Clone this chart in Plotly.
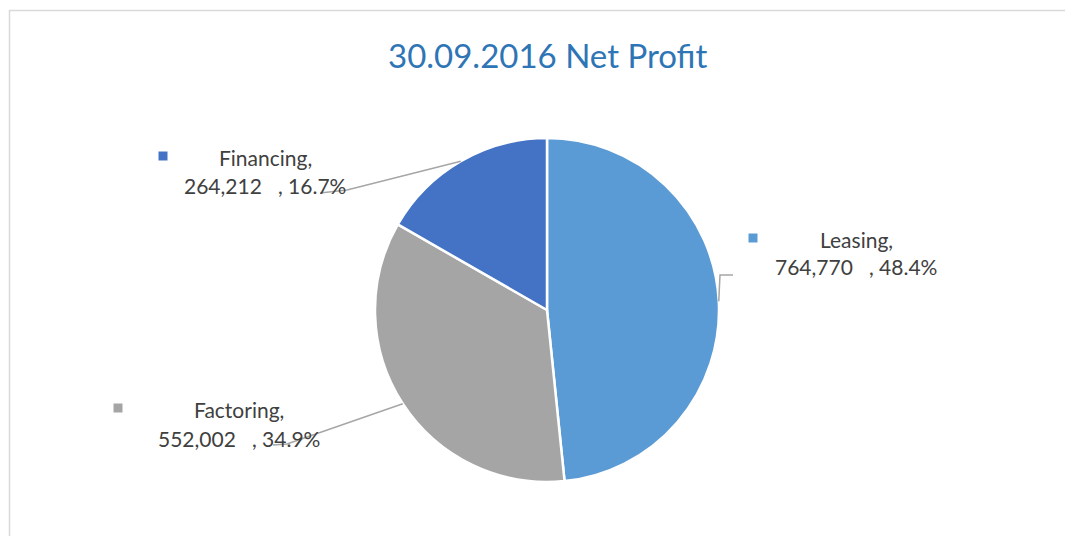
import math
import plotly.graph_objects as go

# ---- data ----
categories = ["Leasing", "Factoring", "Financing"]
values = [764770, 552002, 264212]
percent_labels = ["48.4%", "34.9%", "16.7%"]
value_labels = ["764,770", "552,002", "264,212"]
colors = ["#5B9BD5", "#A5A5A5", "#4472C4"]
title_text = "30.09.2016 Net Profit"

# ---- layout constants (pixels, in window coordinates) ----
W, H = 1073, 536
OFF = 8  # default page body margin
CX, CY, R = 547, 310, 172
FONT = "Lato"
TXT = "#404040"
LINE = "#A6A6A6"


def px(x):
    return (x - OFF) / W


def py(y):
    return 1 - (y - OFF) / H


fig = go.Figure()
fig.add_trace(go.Pie(
    labels=categories,
    values=values,
    sort=False,
    direction="clockwise",
    rotation=0,
    marker=dict(colors=colors, line=dict(color="white", width=2.5)),
    textinfo="none",
    hoverinfo="label+value+percent",
    domain=dict(x=[px(CX - R), px(CX + R)], y=[py(CY + R), py(CY - R)]),
    showlegend=False,
))

# label placements (layout): line1 centre x, line1 y, line2 y, marker x, elbow, end
label_pos = {
    "Leasing": dict(cx=856, y1=239, y2=267, mx=753, elbow=(720, 275), end=(733, 275)),
    "Factoring": dict(cx=239, y1=409, y2=438, mx=118, elbow=(287, 444), end=(273, 445)),
    "Financing": dict(cx=265, y1=157, y2=185, mx=163, elbow=(347, 190), end=(320, 193)),
}

total = sum(values)
cum = 0
annotations = []
shapes = []
for cat, v, pct, vl, col in zip(categories, values, percent_labels, value_labels, colors):
    mid = (cum + v / 2) / total * 2 * math.pi
    cum += v
    sx = CX + R * math.sin(mid)
    sy = CY - R * math.cos(mid)
    p = label_pos[cat]
    ex, ey = p["elbow"]
    fx, fy = p["end"]
    shapes.append(dict(
        type="path", xref="paper", yref="paper",
        path=f"M {px(sx)} {py(sy)} L {px(ex)} {py(ey)} L {px(fx)} {py(fy)}",
        line=dict(color=LINE, width=1.5),
    ))
    annotations.append(dict(
        x=px(p["cx"]), y=py(p["y1"]), xref="paper", yref="paper",
        text=f"{cat},", showarrow=False, xanchor="center", yanchor="middle",
        font=dict(family=FONT, size=21, color=TXT),
    ))
    annotations.append(dict(
        x=px(p["cx"]), y=py(p["y2"]), xref="paper", yref="paper",
        text=f"{vl}\u00a0\u00a0\u00a0, {pct}", showarrow=False,
        xanchor="center", yanchor="middle",
        font=dict(family=FONT, size=21, color=TXT),
    ))
    shapes.append(dict(
        type="rect", xref="paper", yref="paper",
        x0=px(p["mx"] - 4.5), x1=px(p["mx"] + 4.5),
        y0=py(p["y1"] - 5.5), y1=py(p["y1"] + 3.5),
        fillcolor=col, line=dict(width=0),
    ))

# outer border
shapes.append(dict(
    type="rect", xref="paper", yref="paper",
    x0=px(9.5), x1=px(W + 20), y0=py(H + 20), y1=py(10.5),
    line=dict(color="#D9D9D9", width=1.5), fillcolor="rgba(0,0,0,0)",
))

annotations.append(dict(
    x=px(547), y=py(55), xref="paper", yref="paper",
    text=title_text, showarrow=False, xanchor="center", yanchor="middle",
    font=dict(family=FONT, size=33, color="#2E75B6"),
))

fig.update_layout(
    width=W, height=H,
    margin=dict(l=0, r=0, t=0, b=0),
    paper_bgcolor="white", plot_bgcolor="white",
    shapes=shapes, annotations=annotations,
)

fig.write_html("out.html")
